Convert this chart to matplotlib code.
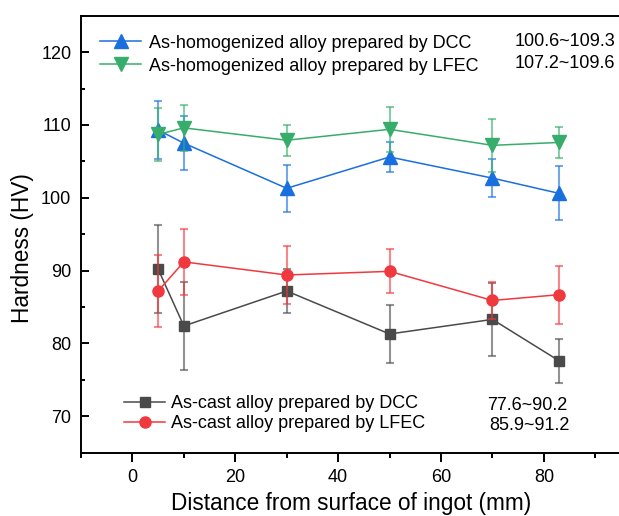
import numpy as np
import matplotlib.pyplot as plt
from matplotlib.ticker import MultipleLocator

plt.rcParams['font.family'] = ['Liberation Sans', 'DejaVu Sans']

# Distance from ingot surface (mm)
dist = [5, 10, 30, 50, 70, 83]

# Hardness values (HV) and error bars
homo_dcc = [109.3, 107.5, 101.3, 105.6, 102.7, 100.6]
homo_dcc_err = [4.0, 3.7, 3.2, 2.1, 2.6, 3.7]
homo_lfec = [108.7, 109.6, 107.9, 109.4, 107.2, 107.6]
homo_lfec_err = [3.6, 3.2, 2.1, 3.1, 3.6, 2.1]
cast_dcc = [90.2, 82.4, 87.2, 81.3, 83.3, 77.6]
cast_dcc_err = [6.0, 6.0, 3.0, 4.0, 5.0, 3.0]
cast_lfec = [87.2, 91.2, 89.4, 89.9, 85.9, 86.7]
cast_lfec_err = [5.0, 4.5, 4.0, 3.0, 2.5, 4.0]

labels = ['As-homogenized alloy prepared by DCC',
          'As-homogenized alloy prepared by LFEC',
          'As-cast alloy prepared by DCC',
          'As-cast alloy prepared by LFEC']
ranges = ['100.6~109.3', '107.2~109.6', '77.6~90.2', '85.9~91.2']

c_blue = '#1a6fdf'
c_green = '#37ad6b'
c_black = '#4a4a4a'
c_red = '#f0393f'

fs_leg = 13

fig = plt.figure(figsize=(6.19, 5.16), dpi=100)
# right spine sits just outside the picture, as in the original crop
ax = fig.add_axes([81 / 619, 1 - 452.7 / 516, 540 / 619, 437 / 516])

def draw(y, err, color, marker, ms, label):
    ax.errorbar(dist, y, yerr=err, fmt='none', ecolor=color, alpha=0.6,
                elinewidth=1.5, capsize=3.2, capthick=1.5)
    h, = ax.plot(dist, y, color=color, marker=marker, markersize=ms,
                 linewidth=1.1, label=label)
    return h

h1 = draw(homo_dcc, homo_dcc_err, c_blue, '^', 9.5, labels[0])
h2 = draw(homo_lfec, homo_lfec_err, c_green, 'v', 9.5, labels[1])
h3 = draw(cast_dcc, cast_dcc_err, c_black, 's', 7.5, labels[2])
h4 = draw(cast_lfec, cast_lfec_err, c_red, 'o', 8, labels[3])

ax.set_xlim(-10, 95)
ax.set_ylim(65, 125)
ax.xaxis.set_major_locator(MultipleLocator(20))
ax.xaxis.set_minor_locator(MultipleLocator(10))
ax.yaxis.set_major_locator(MultipleLocator(10))
ax.yaxis.set_minor_locator(MultipleLocator(5))
ax.tick_params(axis='x', which='both', direction='out', labelsize=13, width=1.4, pad=5.5)
ax.tick_params(axis='y', which='both', direction='in', labelsize=13, width=1.4, pad=7)
ax.tick_params(axis='x', which='major', length=6.5)
ax.tick_params(axis='x', which='minor', length=3.5)
ax.tick_params(axis='y', which='major', length=5.5)
ax.tick_params(axis='y', which='minor', length=3)
for s in ax.spines.values():
    s.set_linewidth(1.4)

ax.set_xlabel('Distance from surface of ingot (mm)', fontsize=16.3, labelpad=4)
ax.set_ylabel('Hardness (HV)', fontsize=16.3)
ax.yaxis.set_label_coords(-0.087, 0.468)

leg1 = ax.legend(handles=[h1, h2], loc='upper left', bbox_to_anchor=(0.006, 0.994),
                 frameon=False, fontsize=fs_leg, handlelength=2.27,
                 handletextpad=0.39, labelspacing=0.33, borderaxespad=0.5)
ax.add_artist(leg1)
ax.legend(handles=[h3, h4], loc='lower left', bbox_to_anchor=(0.05, 0.01),
          frameon=False, fontsize=fs_leg, handlelength=2.27,
          handletextpad=0.33, labelspacing=0.15, borderaxespad=0.5)

# value ranges next to legend entries (figure pixel positions)
range_pos = [(615, 42), (615, 64), (567, 405), (570, 425)]
for txt, (xp, yp) in zip(ranges, range_pos):
    fig.text(xp / 619, 1 - yp / 516, txt, fontsize=fs_leg, ha='right', va='center')

fig.savefig('out.png', dpi=100)
